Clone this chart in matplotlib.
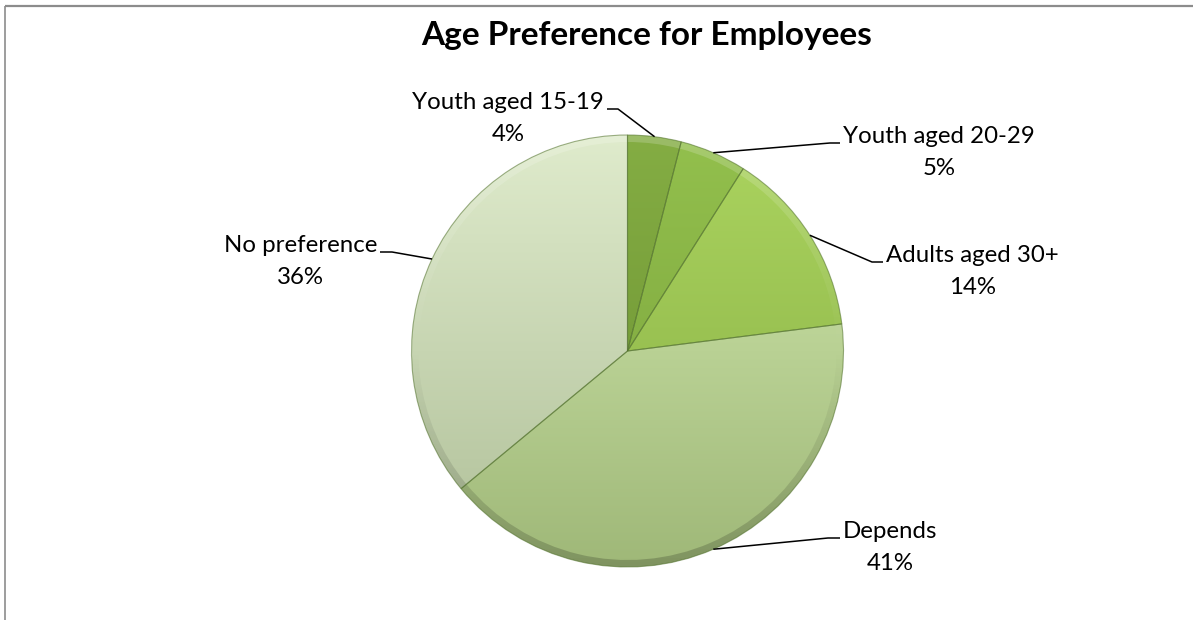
import numpy as np
import matplotlib
matplotlib.use("Agg")
import matplotlib.pyplot as plt
from matplotlib.patches import Wedge
from matplotlib.colors import to_rgb

# Survey results
categories = ["Youth aged 15-19", "Youth aged 20-29", "Adults aged 30+", "Depends", "No preference"]
shares = [4, 5, 14, 41, 36]

# Slice shading: colour at the top and at the bottom of the pie
top_colors = ["#84ad43", "#93c04d", "#abd45f", "#d3eab0", "#dfebcc"]
bottom_colors = ["#6a8f31", "#779f3a", "#87ae44", "#9fb878", "#afbf98"]

W, H = 1193, 620
fig = plt.figure(figsize=(W / 100, H / 100), dpi=100)
ax = fig.add_axes([0, 0, 1, 1])

cx, cy, r = 627.5, H - 351, 216

wedges, _ = ax.pie(shares, startangle=90, counterclock=False,
                   center=(cx, cy), radius=r, colors=["none"] * len(shares),
                   wedgeprops=dict(edgecolor="none"))

extent = (cx - r, cx + r, cy - r, cy + r)
t = np.linspace(0, 1, 256).reshape(-1, 1, 1)
for w, ct, cb in zip(wedges, top_colors, bottom_colors):
    a, b = np.array(to_rgb(ct)), np.array(to_rgb(cb))
    img = a * (1 - t) + b * t
    im = ax.imshow(img, extent=extent, origin="upper", aspect="auto",
                   interpolation="bilinear", zorder=1)
    im.set_clip_path(w)
    # bevelled rim: light on top, darker towards the bottom
    rim = Wedge((cx, cy), r, w.theta1, w.theta2, width=7, facecolor="none",
                edgecolor="none")
    ax.add_patch(rim)
    shade = np.zeros((256, 1, 4))
    shade[..., :3] = np.where(t < 0.5, 1.0, 0.0)
    shade[..., 3] = np.abs(0.5 - t[..., 0]) * 0.4
    im2 = ax.imshow(shade, extent=extent, origin="upper", aspect="auto",
                    interpolation="bilinear", zorder=2)
    im2.set_clip_path(rim)
    # thin seam between slices
    seam = Wedge((cx, cy), r, w.theta1, w.theta2, facecolor="none",
                 edgecolor="#50702a", linewidth=0.8, alpha=0.55, zorder=3)
    ax.add_patch(seam)

ax.set_xlim(0, W)
ax.set_ylim(0, H)
ax.set_aspect("equal")
ax.axis("off")

# chart frame
ax.plot([4.5, 4.5], [0, H - 6], color="#8c8c8c", lw=1.2, solid_capstyle="butt")
ax.plot([4.5, W], [H - 6, H - 6], color="#8c8c8c", lw=1.6, solid_capstyle="butt")

ax.text(647, H - 45, "Age Preference for Employees", ha="center", va="baseline",
        fontsize=24, fontweight="bold", family="Lato", color="#000000")

# label layout: elbow of each leader line and the end of its short
# horizontal tick, where the first label line sits on the baseline
elbows = [(618, 109), (830, 143), (872, 262), (828, 538), (392, 252)]
ticks = [(607, 109), (840, 143), (883, 262), (840, 538), (380, 252)]
label_side = ["left", "right", "right", "right", "left"]

fig.canvas.draw()
renderer = fig.canvas.get_renderer()

cum = np.cumsum([0] + shares[:-1])
for i, (name, v) in enumerate(zip(categories, shares)):
    mid = np.deg2rad(90 - (cum[i] + v / 2) * 3.6)
    ax_pt = (cx + r * np.cos(mid), cy + r * np.sin(mid))
    ex, ey = elbows[i]
    tx, ty = ticks[i]
    ax.plot([ax_pt[0], ex, tx], [ax_pt[1], H - ey, H - ty], color="black",
            lw=1.1, zorder=4, solid_capstyle="butt")
    if label_side[i] == "right":
        x0, ha = tx + 3, "left"
    else:
        x0, ha = tx - 3, "right"
    first = ax.text(x0, H - ty, name, ha=ha, va="baseline",
                    fontsize=17.3, family="Lato", color="#000000")
    bb = first.get_window_extent(renderer)
    xc = (bb.x0 + bb.x1) / 2
    ax.text(xc, H - ty - 32, f"{v}%", ha="center", va="baseline",
            fontsize=17.3, family="Lato", color="#000000")

fig.savefig("out.png", dpi=100)
